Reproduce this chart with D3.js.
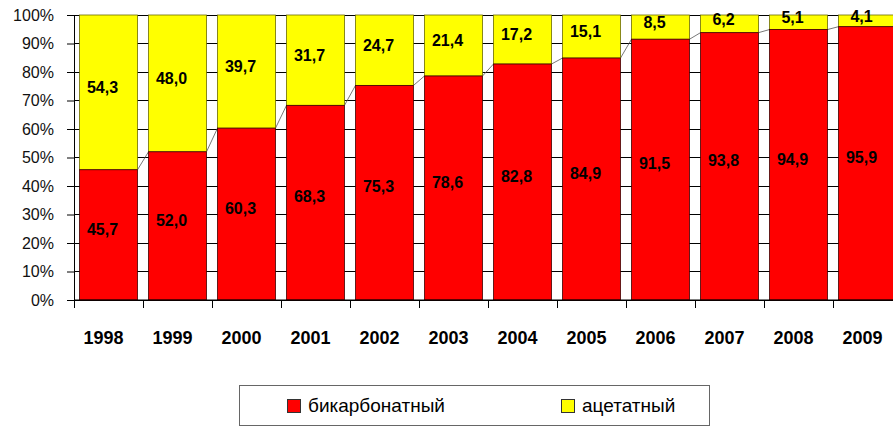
<!DOCTYPE html>
<html><head><meta charset="utf-8">
<script src="https://cdn.jsdelivr.net/npm/d3@7"></script>
<style>body{margin:0;background:#fff}svg{display:block}text{font-family:"Liberation Sans",Arial,sans-serif}</style>
</head><body>
<script>
const years = ["1998","1999","2000","2001","2002","2003","2004","2005","2006","2007","2008","2009"];
const bicarbonate = [45.7,52.0,60.3,68.3,75.3,78.6,82.8,84.9,91.5,93.8,94.9,95.9];
const acetate = [54.3,48.0,39.7,31.7,24.7,21.4,17.2,15.1,8.5,6.2,5.1,4.1];
const yTicks = [0,10,20,30,40,50,60,70,80,90,100];
const seriesNames = ["бикарбонатный","ацетатный"];
const colors = ["#ff0000","#ffff00"];

const W=893,H=428;
const svg=d3.select("body").append("svg").attr("width",W).attr("height",H);
const x=d3.scaleBand().domain(years).range([74,902]).padding(0);
const y=d3.scaleLinear().domain([0,100]).range([300,15]);
const inset=5.5, bw=x.bandwidth()-2*inset;

// gridlines
svg.append("g").selectAll("line").data(yTicks).join("line")
  .attr("x1",74).attr("x2",W).attr("y1",d=>y(d)).attr("y2",d=>y(d))
  .attr("stroke","#000").attr("stroke-width",1).attr("shape-rendering","crispEdges");

// series lines
const sl=[];
for(let i=0;i<years.length-1;i++){
  sl.push({x1:x(years[i])+inset+bw, y1:y(bicarbonate[i]), x2:x(years[i+1])+inset, y2:y(bicarbonate[i+1])});
}
svg.append("g").selectAll("line").data(sl).join("line")
  .attr("x1",d=>d.x1).attr("y1",d=>d.y1).attr("x2",d=>d.x2).attr("y2",d=>d.y2)
  .attr("stroke","#555").attr("stroke-width",0.8);

// bars
const stackData=years.map((yr,i)=>({yr,b:bicarbonate[i],a:acetate[i]}));
const bars=svg.append("g");
bars.selectAll(".ra").data(stackData).join("rect")
  .attr("x",d=>x(d.yr)+inset).attr("width",bw)
  .attr("y",d=>y(d.b+d.a)).attr("height",d=>y(d.b)-y(d.b+d.a))
  .attr("fill",colors[1]).attr("stroke","#6b6b00").attr("stroke-width",0.8);
bars.selectAll(".rb").data(stackData).join("rect")
  .attr("x",d=>x(d.yr)+inset).attr("width",bw)
  .attr("y",d=>y(d.b)).attr("height",d=>y(0)-y(d.b))
  .attr("fill",colors[0]).attr("stroke","#400000").attr("stroke-width",0.8);

// labels
const fmt=v=>v.toFixed(1).replace(".",",");
const lab=svg.append("g").attr("font-size",16).attr("font-weight","bold").attr("text-anchor","middle").attr("fill","#000");
lab.selectAll(".lb").data(stackData).join("text")
  .attr("x",d=>x(d.yr)+x.bandwidth()/2-6).attr("y",d=>(y(0)+y(d.b))/2-6).attr("dy","0.36em").text(d=>fmt(d.b));
lab.selectAll(".la").data(stackData).join("text")
  .attr("x",d=>x(d.yr)+x.bandwidth()/2-6).attr("y",d=>(y(d.b)+y(d.b+d.a))/2-5).attr("dy","0.36em").text(d=>fmt(d.a));

// y axis
const ya=svg.append("g").attr("transform","translate(74,0)")
  .call(d3.axisLeft(y).tickValues(yTicks).tickFormat(d=>d+"%").tickSize(7).tickSizeOuter(0));
ya.select(".domain").attr("stroke","#000");
ya.selectAll("line").attr("stroke","#000");
ya.selectAll("text").attr("font-size",16).attr("fill","#111").attr("x",-20).attr("font-family","'Liberation Sans',Arial,sans-serif");

// x axis
const xa=svg.append("g").attr("transform","translate(0,300)");
xa.append("line").attr("x1",74).attr("x2",W).attr("y1",0).attr("y2",0).attr("stroke","#000");
xa.selectAll(".tk").data(years).join("line")
  .attr("x1",d=>Math.round(x(d))+0.5).attr("x2",d=>Math.round(x(d))+0.5).attr("y1",0).attr("y2",8).attr("stroke","#000");
xa.selectAll("text").data(years).join("text")
  .attr("x",d=>x(d)+x.bandwidth()/2-5).attr("y",44).attr("text-anchor","middle")
  .attr("font-size",18).attr("font-weight","bold").attr("fill","#000").text(d=>d);

// legend
const lg=svg.append("g");
lg.append("rect").attr("x",239.5).attr("y",385.5).attr("width",470).attr("height",40)
  .attr("fill","#fff").attr("stroke","#666").attr("stroke-width",1);
const legX=[287,561];
seriesNames.forEach((n,i)=>{
  lg.append("rect").attr("x",legX[i]+0.5).attr("y",399.5).attr("width",13).attr("height",13)
    .attr("fill",colors[i]).attr("stroke","#333").attr("stroke-width",1);
  lg.append("text").attr("x",legX[i]+21).attr("y",412).attr("font-size",19).attr("fill","#000").text(n);
});
</script>
</body></html>
